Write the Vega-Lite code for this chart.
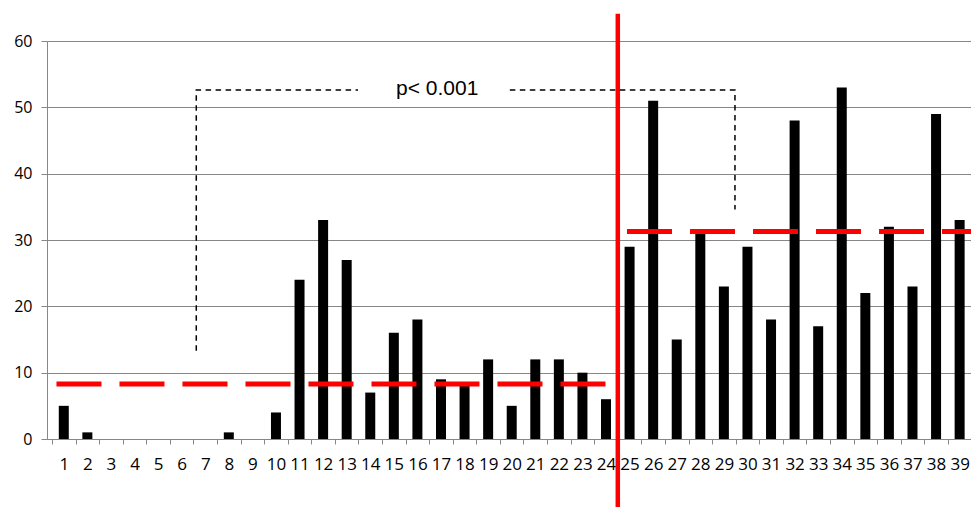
{
  "$schema": "https://vega.github.io/schema/vega-lite/v6.json",
  "autosize": {"type": "none"},
  "padding": {"left": 47, "top": 41, "right": 0, "bottom": 68},
  "width": 924,
  "height": 398,
  "background": "white",
  "config": {"view": {"stroke": null}, "font": "Open Sans"},
  "datasets": {
    "bars": [
      {"period": 1, "count": 5}, {"period": 2, "count": 1}, {"period": 3, "count": 0}, {"period": 4, "count": 0},
      {"period": 5, "count": 0}, {"period": 6, "count": 0}, {"period": 7, "count": 0}, {"period": 8, "count": 1},
      {"period": 9, "count": 0}, {"period": 10, "count": 4}, {"period": 11, "count": 24}, {"period": 12, "count": 33},
      {"period": 13, "count": 27}, {"period": 14, "count": 7}, {"period": 15, "count": 16}, {"period": 16, "count": 18},
      {"period": 17, "count": 9}, {"period": 18, "count": 8}, {"period": 19, "count": 12}, {"period": 20, "count": 5},
      {"period": 21, "count": 12}, {"period": 22, "count": 12}, {"period": 23, "count": 10}, {"period": 24, "count": 6},
      {"period": 25, "count": 29}, {"period": 26, "count": 51}, {"period": 27, "count": 15}, {"period": 28, "count": 31},
      {"period": 29, "count": 23}, {"period": 30, "count": 29}, {"period": 31, "count": 18}, {"period": 32, "count": 48},
      {"period": 33, "count": 17}, {"period": 34, "count": 53}, {"period": 35, "count": 22}, {"period": 36, "count": 32},
      {"period": 37, "count": 23}, {"period": 38, "count": 49}, {"period": 39, "count": 33}
    ],
    "means": [
      {"start": 0.69, "end": 24.4, "mean": 8.3},
      {"start": 24.89, "end": 39.6, "mean": 31.3}
    ],
    "divider": [{"at": 24.5, "low": -11, "high": 64.1}],
    "bracket": [
      {"seg": "left", "ord": 1, "px": 6.62, "py": 13.3},
      {"seg": "left", "ord": 2, "px": 6.62, "py": 52.6},
      {"seg": "left", "ord": 3, "px": 13.48, "py": 52.6},
      {"seg": "right", "ord": 1, "px": 19.92, "py": 52.6},
      {"seg": "right", "ord": 2, "px": 29.47, "py": 52.6},
      {"seg": "right", "ord": 3, "px": 29.47, "py": 34.6}
    ],
    "note": [{"px": 16.84, "py": 52.7, "label": "p< 0.001"}]
  },
  "layer": [
    {
      "data": {"name": "bars"},
      "mark": {"type": "bar", "width": 10, "color": "black"},
      "encoding": {
        "x": {
          "field": "period", "type": "quantitative", "title": null,
          "scale": {"domain": [0.5, 39.27], "nice": false, "zero": false},
          "axis": {
            "orient": "bottom",
            "values": [1,2,3,4,5,6,7,8,9,10,11,12,13,14,15,16,17,18,19,20,21,22,23,24,25,26,27,28,29,30,31,32,33,34,35,36,37,38,39],
            "ticks": false, "tickSize": 0, "domain": false, "grid": false,
            "labelPadding": 17, "labelFontSize": 17, "labelColor": "black", "labelFont": "Open Sans",
            "labelOverlap": false, "labelFlush": false, "labelBound": false
          }
        },
        "y": {
          "field": "count", "type": "quantitative", "title": null,
          "scale": {"domain": [0, 60], "nice": false, "zero": true},
          "axis": {
            "values": [0, 10, 20, 30, 40, 50, 60],
            "grid": true, "gridColor": "#878787", "gridWidth": 1,
            "domain": true, "domainColor": "#878787",
            "ticks": true, "tickColor": "#878787", "tickSize": 6,
            "labelPadding": 9, "labelFontSize": 16, "labelColor": "black", "labelFont": "Open Sans"
          }
        }
      }
    },
    {
      "data": {"name": "means"},
      "mark": {"type": "rule", "color": "#ff0000", "strokeWidth": 5, "strokeDash": [45, 18]},
      "encoding": {
        "x": {
          "field": "start", "type": "quantitative", "title": null,
          "scale": {"domain": [0.5, 39.27], "nice": false, "zero": false},
          "axis": {
            "orient": "bottom",
            "values": [0.5,1.5,2.5,3.5,4.5,5.5,6.5,7.5,8.5,9.5,10.5,11.5,12.5,13.5,14.5,15.5,16.5,17.5,18.5,19.5,20.5,21.5,22.5,23.5,24.5,25.5,26.5,27.5,28.5,29.5,30.5,31.5,32.5,33.5,34.5,35.5,36.5,37.5,38.5],
            "labels": false, "ticks": true, "tickSize": 5, "tickColor": "#878787",
            "domain": true, "domainColor": "#878787", "grid": false
          }
        },
        "x2": {"field": "end"},
        "y": {"field": "mean", "type": "quantitative", "title": null, "scale": {"domain": [0, 60], "nice": false}}
      }
    },
    {
      "data": {"name": "divider"},
      "mark": {"type": "rule", "color": "#ff0000", "strokeWidth": 4.5},
      "encoding": {
        "x": {"field": "at", "type": "quantitative", "title": null, "scale": {"domain": [0.5, 39.27], "nice": false, "zero": false}, "axis": null},
        "y": {"field": "low", "type": "quantitative", "title": null, "scale": {"domain": [0, 60], "nice": false}},
        "y2": {"field": "high"}
      }
    },
    {
      "data": {"name": "bracket"},
      "mark": {"type": "line", "color": "black", "strokeWidth": 1.5, "strokeDash": [5.5, 4.5]},
      "encoding": {
        "x": {"field": "px", "type": "quantitative", "title": null, "scale": {"domain": [0.5, 39.27], "nice": false, "zero": false}, "axis": null},
        "y": {"field": "py", "type": "quantitative", "title": null, "scale": {"domain": [0, 60], "nice": false}},
        "detail": {"field": "seg"},
        "order": {"field": "ord", "type": "quantitative"}
      }
    },
    {
      "data": {"name": "note"},
      "mark": {"type": "text", "font": "Liberation Sans", "fontSize": 21, "color": "black", "align": "center", "baseline": "middle"},
      "encoding": {
        "x": {"field": "px", "type": "quantitative", "title": null, "scale": {"domain": [0.5, 39.27], "nice": false, "zero": false}, "axis": null},
        "y": {"field": "py", "type": "quantitative", "title": null, "scale": {"domain": [0, 60], "nice": false}},
        "text": {"field": "label"}
      }
    }
  ],
  "resolve": {"axis": {"x": "independent"}}
}
